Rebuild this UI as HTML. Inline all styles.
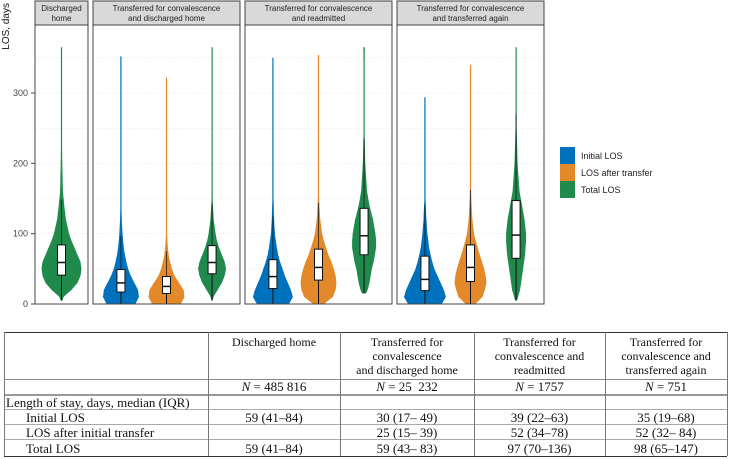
<!DOCTYPE html>
<html><head><meta charset="utf-8">
<style>
body{margin:0;width:729px;height:459px;background:#fff;overflow:hidden;position:relative;font-family:"Liberation Sans",sans-serif}
svg{position:absolute;left:0;top:0}
.tb{position:absolute;font-family:"Liberation Serif",serif;font-size:13px;color:#111;line-height:15px}
.c{position:absolute;text-align:center}
.hd{font-size:12px;line-height:14px}
.l{position:absolute;text-align:left;white-space:nowrap}
.h{position:absolute;height:0;border-top:1px solid #555}
.v{position:absolute;width:0;border-left:1px solid #777}
</style></head><body>
<svg id="chart" width="729" height="320"></svg>
<div class="tb" style="left:0;top:0;width:729px;height:459px">
 <div class="h" style="left:4px;width:723px;top:332px;border-top-color:#333"></div>
 <div class="h" style="left:4px;width:723px;top:379px;border-top-color:#888"></div>
 <div class="h" style="left:4px;width:723px;top:394px;border-top:2px solid #999"></div>
 <div class="h" style="left:4px;width:723px;top:409px;border-top-color:#aaa"></div>
 <div class="h" style="left:4px;width:723px;top:424px;border-top-color:#aaa"></div>
 <div class="h" style="left:4px;width:723px;top:439px;border-top-color:#aaa"></div>
 <div class="h" style="left:4px;width:723px;top:456px;border-top-color:#333"></div>
 <div class="v" style="left:4px;top:332px;height:124px"></div>
 <div class="v" style="left:208px;top:332px;height:124px"></div>
 <div class="v" style="left:340px;top:332px;height:124px"></div>
 <div class="v" style="left:474px;top:332px;height:124px"></div>
 <div class="v" style="left:605px;top:332px;height:124px"></div>
 <div class="v" style="left:727px;top:332px;height:124px"></div>
 <div class="c hd" style="left:208px;width:132px;top:335px">Discharged home</div>
 <div class="c hd" style="left:340px;width:134px;top:335px">Transferred for<br>convalescence<br>and discharged home</div>
 <div class="c hd" style="left:474px;width:131px;top:335px">Transferred for<br>convalescence and<br>readmitted</div>
 <div class="c hd" style="left:605px;width:122px;top:335px">Transferred for<br>convalescence and<br>transferred again</div>
 <div class="c" style="left:208px;width:132px;top:379px"><i>N</i> = 485 816</div>
 <div class="c" style="left:340px;width:134px;top:379px"><i>N</i> = 25&nbsp; 232</div>
 <div class="c" style="left:474px;width:131px;top:379px"><i>N</i> = 1757</div>
 <div class="c" style="left:605px;width:122px;top:379px"><i>N</i> = 751</div>
 <div class="l" style="left:6px;top:395px">Length of stay, days, median (IQR)</div>
 <div class="l" style="left:26px;top:410px">Initial LOS</div>
 <div class="l" style="left:26px;top:425px">LOS after initial transfer</div>
 <div class="l" style="left:26px;top:441px">Total LOS</div>
 <div class="c" style="left:208px;width:132px;top:410px">59 (41–84)</div>
 <div class="c" style="left:340px;width:134px;top:410px">30 (17– 49)</div>
 <div class="c" style="left:474px;width:131px;top:410px">39 (22–63)</div>
 <div class="c" style="left:605px;width:122px;top:410px">35 (19–68)</div>
 <div class="c" style="left:340px;width:134px;top:425px">25 (15– 39)</div>
 <div class="c" style="left:474px;width:131px;top:425px">52 (34–78)</div>
 <div class="c" style="left:605px;width:122px;top:425px">52 (32– 84)</div>
 <div class="c" style="left:208px;width:132px;top:441px">59 (41–84)</div>
 <div class="c" style="left:340px;width:134px;top:441px">59 (43– 83)</div>
 <div class="c" style="left:474px;width:131px;top:441px">97 (70–136)</div>
 <div class="c" style="left:605px;width:122px;top:441px">98 (65–147)</div>
</div>
<script>
const yTicks=[0,100,200,300];
const gridVals=[50,100,150,200,250,300,350];
const panelTitles=[["Discharged","home"],["Transferred for convalescence","and discharged home"],["Transferred for convalescence","and readmitted"],["Transferred for convalescence","and transferred again"]];
const densDays=[0,10,20,30,40,50,60,70,80,90,100,120,140,160,200,250,300,365];
const vPanel=[0,1,1,1,2,2,2,3,3,3];
const vSeries=[2,0,1,2,0,1,2,0,1,2];
const vMin=[5,0,0,5,0,0,15,0,0,5];
const vQ1=[41,17,15,43,22,34,70,19,32,65];
const vMed=[59,30,25,59,39,52,97,35,52,98];
const vQ3=[84,49,39,83,63,78,136,68,84,147];
const vMax=[365,352,323,365,350,355,365,295,340,365];
const vPeak=[20,18,18,14,20,18,12,21,16,10];
const vDens=[
[0,0.1,0.5,0.8,0.95,1,0.95,0.8,0.65,0.5,0.38,0.22,0.14,0.07,0.04,0.02,0.02,0.02],
[0.8,1,0.95,0.75,0.55,0.4,0.3,0.22,0.16,0.12,0.09,0.05,0.03,0.02,0.015,0.01,0.01,0.01],
[0.8,1,0.95,0.7,0.45,0.3,0.2,0.12,0.08,0.05,0.03,0.02,0.015,0.01,0.01,0.01,0.01,0.01],
[0,0.1,0.4,0.7,0.9,1,0.9,0.7,0.5,0.35,0.25,0.12,0.06,0.03,0.02,0.02,0.02,0.02],
[0.8,1,0.9,0.75,0.6,0.48,0.36,0.26,0.2,0.15,0.1,0.06,0.04,0.02,0.015,0.01,0.01,0.01],
[0.3,0.8,0.95,1,0.95,0.85,0.72,0.55,0.42,0.3,0.2,0.1,0.05,0.03,0.02,0.01,0.01,0.01],
[0,0.05,0.3,0.45,0.55,0.65,0.8,0.9,1,1,0.95,0.75,0.45,0.25,0.1,0.04,0.03,0.06],
[0.8,1,0.9,0.75,0.6,0.45,0.35,0.27,0.2,0.16,0.12,0.07,0.04,0.02,0.015,0.01,0.01,0.01],
[0.3,0.75,0.9,1,0.95,0.85,0.72,0.58,0.45,0.33,0.22,0.12,0.07,0.04,0.02,0.01,0.01,0.01],
[0,0.2,0.4,0.5,0.6,0.7,0.8,0.9,0.95,1,1,0.85,0.6,0.35,0.15,0.06,0.04,0.05]];
const seriesNames=["Initial LOS","LOS after transfer","Total LOS"];
const colors=["#0072bd","#e4892a","#1f8a4c"];
const panelsX=[[35,88],[93,240],[245,392],[397,544]];
const svg=document.getElementById('chart');
const NS="http://www.w3.org/2000/svg";
function mk(t,a,p){const e=document.createElementNS(NS,t);for(const k in a)e.setAttribute(k,a[k]);(p||svg).appendChild(e);return e;}
const y=v=>304-v*(211/300);
function xPos(p,s){const [a,b]=panelsX[p];if(p===0)return (a+b)/2;return a+(b-a)*(0.19+0.31*s);}
function dens(i,d){const D=vDens[i];for(let k=0;k<densDays.length-1;k++){if(d<=densDays[k+1]){const t=(d-densDays[k])/(densDays[k+1]-densDays[k]);return D[k]+(D[k+1]-D[k])*t;}}return D[D.length-1];}
panelsX.forEach((px,p)=>{
  const g=mk('g',{});
  
  
  const r=mk('rect',{x:px[0],y:1,width:px[1]-px[0],height:24,fill:'#d9d9d9',stroke:'#444','stroke-width':1},g);
  
  
  const lines=panelTitles[p];
  lines.forEach((t,k)=>{const tx=mk('text',{x:(px[0]+px[1])/2,y:lines.length===2?11+k*10:16,'text-anchor':'middle','font-size':8,fill:'#222'},g);tx.textContent=t;
    
    });
  mk('rect',{x:px[0],y:25,width:px[1]-px[0],height:279,fill:'#fff',stroke:'none'},g);
  gridVals.forEach(v=>mk('line',{x1:px[0],x2:px[1],y1:y(v),y2:y(v),stroke:'#ececec','stroke-width':0.6,'stroke-dasharray':'2,1'},g));
});
for(let i=0;i<vMin.length;i++){
  const cx=xPos(vPanel[i],vSeries[i]);const col=colors[vSeries[i]];
  const g=mk('g',{});
  
  
  let L=[],R=[];
  for(let d=vMin[i];d<=vMax[i];d+=2){const w=Math.max(0.6,dens(i,d)*vPeak[i]);L.push([cx-w,y(d)]);R.push([cx+w,y(d)]);}
  const pts=L.concat(R.reverse()).map(q=>q[0].toFixed(1)+','+q[1].toFixed(1)).join(' ');
  mk('polygon',{points:pts,fill:col},g);
  mk('line',{x1:cx,x2:cx,y1:y(vMin[i]),y2:y(vQ1[i]),stroke:'#111','stroke-width':1},g);
  mk('line',{x1:cx,x2:cx,y1:y(vQ3[i]),y2:y(Math.min(vMax[i],vQ3[i]+1.5*(vQ3[i]-vQ1[i]))),stroke:'#111','stroke-width':1,opacity:0.7},g);
  const b=mk('rect',{x:cx-4,y:y(vQ3[i]),width:8,height:y(vQ1[i])-y(vQ3[i]),fill:'#fff',stroke:'#111','stroke-width':1},g);
  
  
  mk('line',{x1:cx-4,x2:cx+4,y1:y(vMed[i]),y2:y(vMed[i]),stroke:'#111','stroke-width':1.5},g);
}
panelsX.forEach(px=>mk('rect',{x:px[0],y:25,width:px[1]-px[0],height:279,fill:'none',stroke:'#444','stroke-width':1}));
yTicks.forEach(v=>{const t=mk('text',{x:28,y:y(v)+3,'text-anchor':'end','font-size':9,fill:'#444'});t.textContent=v;
  
  
  mk('line',{x1:31,x2:35,y1:y(v),y2:y(v),stroke:'#444','stroke-width':1});});
const yt=mk('text',{x:0,y:0,transform:'translate(9,3) rotate(-90)','text-anchor':'end','font-size':10,fill:'#111'});yt.textContent='LOS, days';


seriesNames.forEach((n,k)=>{
  const g=mk('g',{});
  
  
  mk('rect',{x:560,y:147+k*17,width:15,height:17,fill:colors[k]},g);
  const t=mk('text',{x:581,y:159+k*17,'font-size':9,fill:'#222'},g);t.textContent=n;
});
</script>
</body></html>
